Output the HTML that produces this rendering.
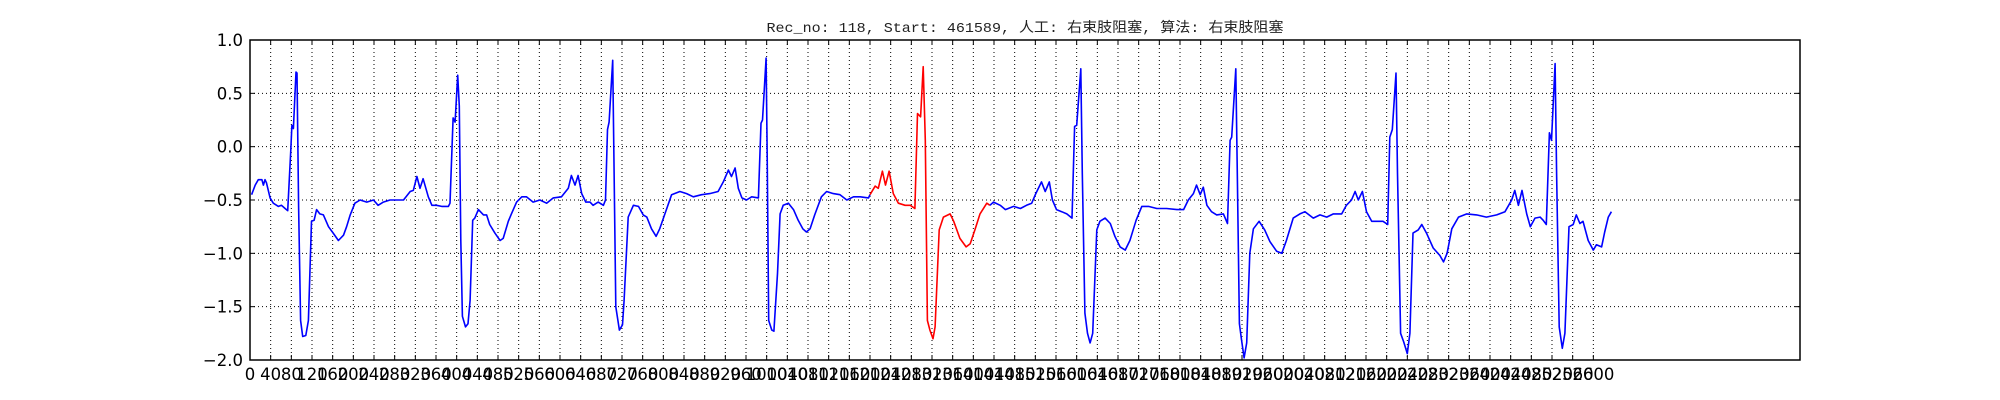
<!DOCTYPE html>
<html><head><meta charset="utf-8"><style>
html,body{margin:0;padding:0;background:#fff;width:2000px;height:400px;overflow:hidden}
svg{display:block}
</style></head><body>
<svg id="chart" width="2000" height="400" xmlns="http://www.w3.org/2000/svg">
<text x="1025" y="32" text-anchor="middle" textLength="517" lengthAdjust="spacingAndGlyphs" font-family="'WenQuanYi Zen Hei','Liberation Mono','Noto Sans CJK SC',monospace" font-size="14" fill="#222">Rec_no: 118, Start: 461589, 人工: 右束肢阻塞, 算法: 右束肢阻塞</text>
<g id="grid"></g>
<g id="series"></g>
<rect x="250" y="40" width="1550" height="320" fill="none" stroke="#000" stroke-width="1.5"/>
<g id="axes"></g>
</svg>
<script>
const yTicks = [1.0, 0.5, 0.0, -0.5, -1.0, -1.5, -2.0];
const yTickLabels = ["1.0", "0.5", "0.0", "\u22120.5", "\u22121.0", "\u22121.5", "\u22122.0"];
const xTickStep = 40;
const xTickMax = 2600;
const redStart = 1200;
const redEnd = 1432;
const sampleIdx = [3,10,16,23,26,29,32,39,45,55,61,68,73,79,81,84,89,91,94,98,102,108,113,119,124,129,135,142,152,161,171,181,187,194,203,213,226,239,248,258,271,284,297,310,316,323,329,335,345,352,361,371,384,387,393,397,402,405,408,411,417,422,426,431,435,442,452,458,464,474,484,490,500,506,516,526,535,548,561,574,587,603,616,622,629,635,
642,650,658,664,674,684,688,692,695,702,704,708,715,721,724,732,742,752,761,768,777,786,793,803,816,832,845,858,874,890,906,916,926,932,939,945,952,961,971,984,989,992,999,1001,1004,1010,1014,1021,1026,1032,1042,1052,1061,1070,1077,1084,1093,1106,1116,1129,1142,1155,1168,1181,1197,1200,1210,1216,1224,1230,1237,1245,1255,1268,1278,1287,1292,1298,1303,1307,1311,1316,1322,1326,1334,1342,1355,1362,1374,1386,1394,1403,1413,1426,1432,1439,1452,1462,1478,1491,1503,1513,1521,1532,1539,1547,1553,1561,1571,1581,1591,1596,1600,1608,1611,1616,1621,1626,1631,1639,1645,1655,1665,1674,1684,1694,1703,1715,1726,1739,1755,1774,1794,1807,1816,1826,1832,1839,1845,1852,1861,1871,1884,1892,1897,1900,1908,1911,1915,1919,1924,1929,1935,1942,1953,1964,1974,1987,1997,2006,2019,2032,2042,2058,2071,2084,2097,2113,2122,2132,2139,2145,2153,2161,2171,2181,2193,2202,2206,2211,2218,2221,2227,2233,2240,2245,2251,2261,2268,2277,2290,2303,2310,2317,2326,2339,2355,2374,2393,2413,2429,2442,2448,2455,2462,2471,2478,2487,2497,2503,2509,2515,2519,2526,2529,2534,2540,2545,2553,2561,2567,2574,2580,2590,2600,2606,2616,2622,2629,2635];
const ecgValues = [-0.45,-0.36,-0.31,-0.31,-0.36,-0.31,-0.34,-0.48,-0.53,-0.56,-0.55,-0.58,-0.6,-0.03,0.2,0.17,0.70,0.69,-0.56,-1.63,-1.78,-1.77,-1.63,-0.70,-0.69,-0.59,-0.63,-0.64,-0.75,-0.81,-0.88,-0.83,-0.75,-0.64,-0.53,-0.5,-0.52,-0.5,-0.55,-0.52,-0.5,-0.5,-0.5,-0.42,-0.41,-0.28,-0.39,-0.30,-0.47,-0.55,-0.55,-0.56,-0.56,-0.53,0.27,0.23,0.67,0.38,-0.88,-1.59,-1.69,-1.66,-1.44,-0.69,-0.67,-0.59,-0.64,-0.64,-0.73,-0.81,-0.88,-0.86,-0.70,-0.63,-0.52,-0.47,-0.47,-0.52,-0.5,-0.53,-0.48,-0.47,-0.39,-0.27,-0.36,-0.27,
-0.44,-0.52,-0.52,-0.55,-0.52,-0.55,-0.5,0.16,0.23,0.81,0.06,-1.5,-1.72,-1.67,-1.44,-0.66,-0.55,-0.56,-0.64,-0.66,-0.77,-0.84,-0.77,-0.63,-0.45,-0.42,-0.44,-0.47,-0.45,-0.44,-0.42,-0.33,-0.22,-0.28,-0.20,-0.39,-0.48,-0.5,-0.47,-0.48,0.22,0.25,0.83,-0.09,-1.63,-1.72,-1.73,-1.19,-0.63,-0.55,-0.53,-0.59,-0.69,-0.77,-0.80,-0.77,-0.64,-0.47,-0.42,-0.44,-0.45,-0.5,-0.47,-0.47,-0.48,-0.45,-0.37,-0.39,-0.23,-0.36,-0.23,-0.44,-0.53,-0.55,-0.55,-0.58,0.31,0.28,0.75,0.06,-1.63,-1.72,-1.80,-1.69,-0.78,-0.66,-0.63,-0.70,-0.86,-0.94,-0.91,-0.78,-0.63,-0.53,-0.55,-0.52,-0.55,-0.59,-0.56,-0.58,-0.55,-0.53,-0.44,-0.33,-0.42,-0.33,-0.5,-0.59,-0.61,-0.63,-0.67,0.19,0.2,0.73,-0.25,-1.56,-1.75,-1.84,-1.75,-0.78,-0.70,-0.67,-0.72,-0.84,-0.94,-0.97,-0.88,-0.69,-0.56,-0.56,-0.58,-0.58,-0.59,-0.59,-0.5,-0.44,-0.36,-0.45,-0.38,-0.55,-0.61,-0.64,-0.63,-0.72,0.06,0.09,0.73,-0.25,-1.66,-1.81,-1.98,-1.84,-1.0,-0.77,-0.70,-0.78,-0.89,-0.98,-1.0,-0.88,-0.67,-0.63,-0.61,-0.67,-0.64,-0.66,-0.63,-0.63,-0.55,-0.5,-0.42,-0.5,-0.42,-0.61,-0.70,-0.70,-0.70,-0.73,0.09,0.16,0.69,-0.25,-1.75,-1.83,-1.94,-1.75,-0.81,-0.78,-0.73,-0.81,-0.95,-1.02,-1.08,-1.0,-0.77,-0.66,-0.63,-0.64,-0.66,-0.64,-0.61,-0.5,-0.41,-0.55,-0.41,-0.63,-0.75,-0.67,-0.66,-0.69,-0.73,0.13,0.06,0.78,-0.25,-1.69,-1.89,-1.75,-0.75,-0.73,-0.64,-0.72,-0.70,-0.88,-0.97,-0.92,-0.94,-0.80,-0.66,-0.61];

const NS='http://www.w3.org/2000/svg';
const L=250,R=1800,T=40,B=360,XMAX=3000,YMIN=-2,YMAX=1;
function xs(s){return L+s/XMAX*(R-L);}
function ys(v){return T+(YMAX-v)/(YMAX-YMIN)*(B-T);}
function mk(tag,parent){const e=document.createElementNS(NS,tag);parent.appendChild(e);return e;}
const grid=document.getElementById('grid'),axes=document.getElementById('axes'),series=document.getElementById('series');
for(let i=0;i<yTicks.length;i++){
  const y=ys(yTicks[i]);
  if(i>0&&i<yTicks.length-1){
    const g=mk('line',grid);
    
    
    g.setAttribute('x1',L);g.setAttribute('x2',R);g.setAttribute('y1',y);g.setAttribute('y2',y);
    g.setAttribute('stroke','#000');g.setAttribute('stroke-width','1');g.setAttribute('stroke-dasharray','1,3');
  }
  const t1=mk('line',axes);
  
  
  t1.setAttribute('x1',L);t1.setAttribute('x2',L+5);t1.setAttribute('y1',y);t1.setAttribute('y2',y);t1.setAttribute('stroke','#000');
  const t2=mk('line',axes);
  
  
  t2.setAttribute('x1',R-5);t2.setAttribute('x2',R);t2.setAttribute('y1',y);t2.setAttribute('y2',y);t2.setAttribute('stroke','#000');
  const tx=mk('text',axes);
  
  
  tx.setAttribute('x',L-7);tx.setAttribute('y',y+6);tx.setAttribute('text-anchor','end');
  tx.setAttribute('font-family','DejaVu Sans, Liberation Sans, sans-serif');tx.setAttribute('font-size','16.5');
  tx.textContent=yTickLabels[i];
}
for(let s=0;s<=xTickMax;s+=xTickStep){
  const x=xs(s);
  if(s>0){
    const g=mk('line',grid);
    
    
    g.setAttribute('x1',x);g.setAttribute('x2',x);g.setAttribute('y1',T);g.setAttribute('y2',B);
    g.setAttribute('stroke','#000');g.setAttribute('stroke-width','1');g.setAttribute('stroke-dasharray','1,3');
  }
  const t1=mk('line',axes);
  
  
  t1.setAttribute('x1',x);t1.setAttribute('x2',x);t1.setAttribute('y1',B-5);t1.setAttribute('y2',B);t1.setAttribute('stroke','#000');
  const t2=mk('line',axes);
  
  
  t2.setAttribute('x1',x);t2.setAttribute('x2',x);t2.setAttribute('y1',T);t2.setAttribute('y2',T+5);t2.setAttribute('stroke','#000');
  const tx=mk('text',axes);
  
  
  tx.setAttribute('x',x);tx.setAttribute('y',B+20);tx.setAttribute('text-anchor','middle');
  tx.setAttribute('font-family','DejaVu Sans, Liberation Sans, sans-serif');tx.setAttribute('font-size','16.5');
  tx.textContent=String(s);
}
function seg(filter,color,name){
  const pts=[];
  for(let i=0;i<sampleIdx.length;i++){if(filter(sampleIdx[i]))pts.push(xs(sampleIdx[i]).toFixed(1)+','+ys(ecgValues[i]).toFixed(1));}
  return pts;
}
const parts=[[s=>s<=redStart,'#0000ff','ecg-line-before'],[s=>s>=redStart&&s<=redEnd,'#ff0000','ecg-line-highlighted'],[s=>s>=redEnd,'#0000ff','ecg-line-after']];
for(const p of parts){
  const pl=mk('polyline',series);
  
  
  pl.setAttribute('points',seg(p[0]).join(' '));
  pl.setAttribute('fill','none');pl.setAttribute('stroke',p[1]);pl.setAttribute('stroke-width','1.6');pl.setAttribute('stroke-linejoin','round');
}
</script>
</body></html>
